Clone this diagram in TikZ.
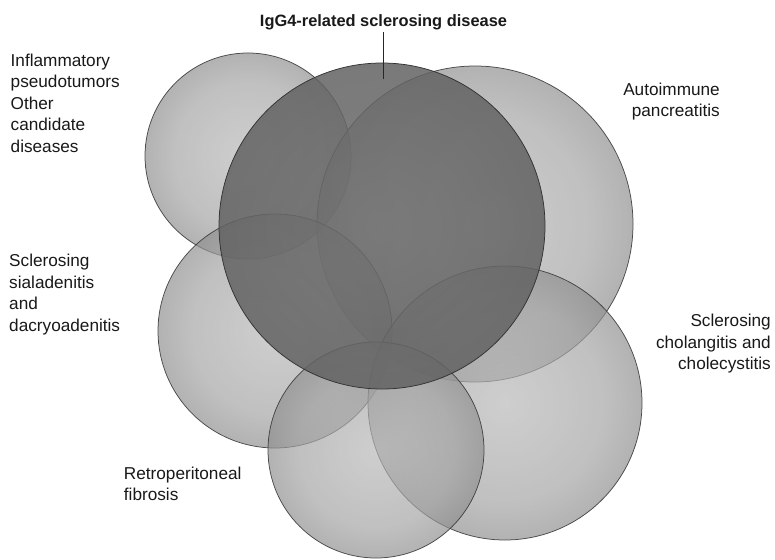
\documentclass[tikz,border=0pt]{standalone}
\usepackage{fontspec}
\setmainfont{Liberation Sans}
\pgfdeclareradialshading{sphA}{\pgfpoint{0bp}{0bp}}{color(0bp)=(black!28); color(18bp)=(black!36); color(30bp)=(black!50); color(40bp)=(black!63); color(50bp)=(black!76)}
\pgfdeclareradialshading{sphB}{\pgfpoint{0bp}{0bp}}{color(0bp)=(black!57); color(28bp)=(black!62); color(50bp)=(black!74)}
\begin{document}
\begin{tikzpicture}[x=1pt,y=-1pt,
  disc/.style={circle, inner sep=0pt, minimum size=#1, draw=black!80, line width=0.75pt,
    draw opacity=0.85, shade, shading=sphA, fill opacity=0.68},
  core/.style={disc=#1, shading=sphB, fill opacity=0.85, draw opacity=1},
  lbl/.style={inner sep=0pt, font=\fontsize{17.2}{21.5}\selectfont, text=black!90},
  ttl/.style={inner sep=0pt, font=\fontsize{16.4}{20}\selectfont\bfseries, text=black!90}]
\fill[white] (0,0) rectangle (775,559);
\useasboundingbox (0,0) rectangle (775,559);

\node[disc=206pt] (infl)  at (248,156) {};
\node[disc=316pt] (auto)  at (475,224) {};
\node[disc=234pt] (sial)  at (275,331) {};
\node[disc=274pt] (chol)  at (505,403) {};
\node[disc=216pt] (retro) at (376,450) {};
\node[core=326pt] (cent)  at (382,226) {};

\node[ttl, anchor=base] (title) at (383.5,26.7) {IgG4-related sclerosing disease};
\coordinate (lineend) at (383,79);
\draw[black!85, line width=0.7pt] ([yshift=-2pt]title.south -| lineend) -- (lineend);

\node[lbl, anchor=north west, align=left] (infl-l) at (10.5,53.6)
  {Inflammatory\\pseudotumors\\Other\\candidate\\diseases};
\node[lbl, anchor=north east, align=right] (auto-l) at (720,82.8)
  {Autoimmune\\pancreatitis};
\node[lbl, anchor=north west, align=left] (sial-l) at (9,254.3)
  {Sclerosing\\sialadenitis\\and\\dacryoadenitis};
\node[lbl, anchor=north east, align=right] (chol-l) at (771,314.3)
  {Sclerosing\\cholangitis and\\cholecystitis};
\node[lbl, anchor=north west, align=left] (retro-l) at (123.7,466.6)
  {Retroperitoneal\\fibrosis};
\end{tikzpicture}
\end{document}
